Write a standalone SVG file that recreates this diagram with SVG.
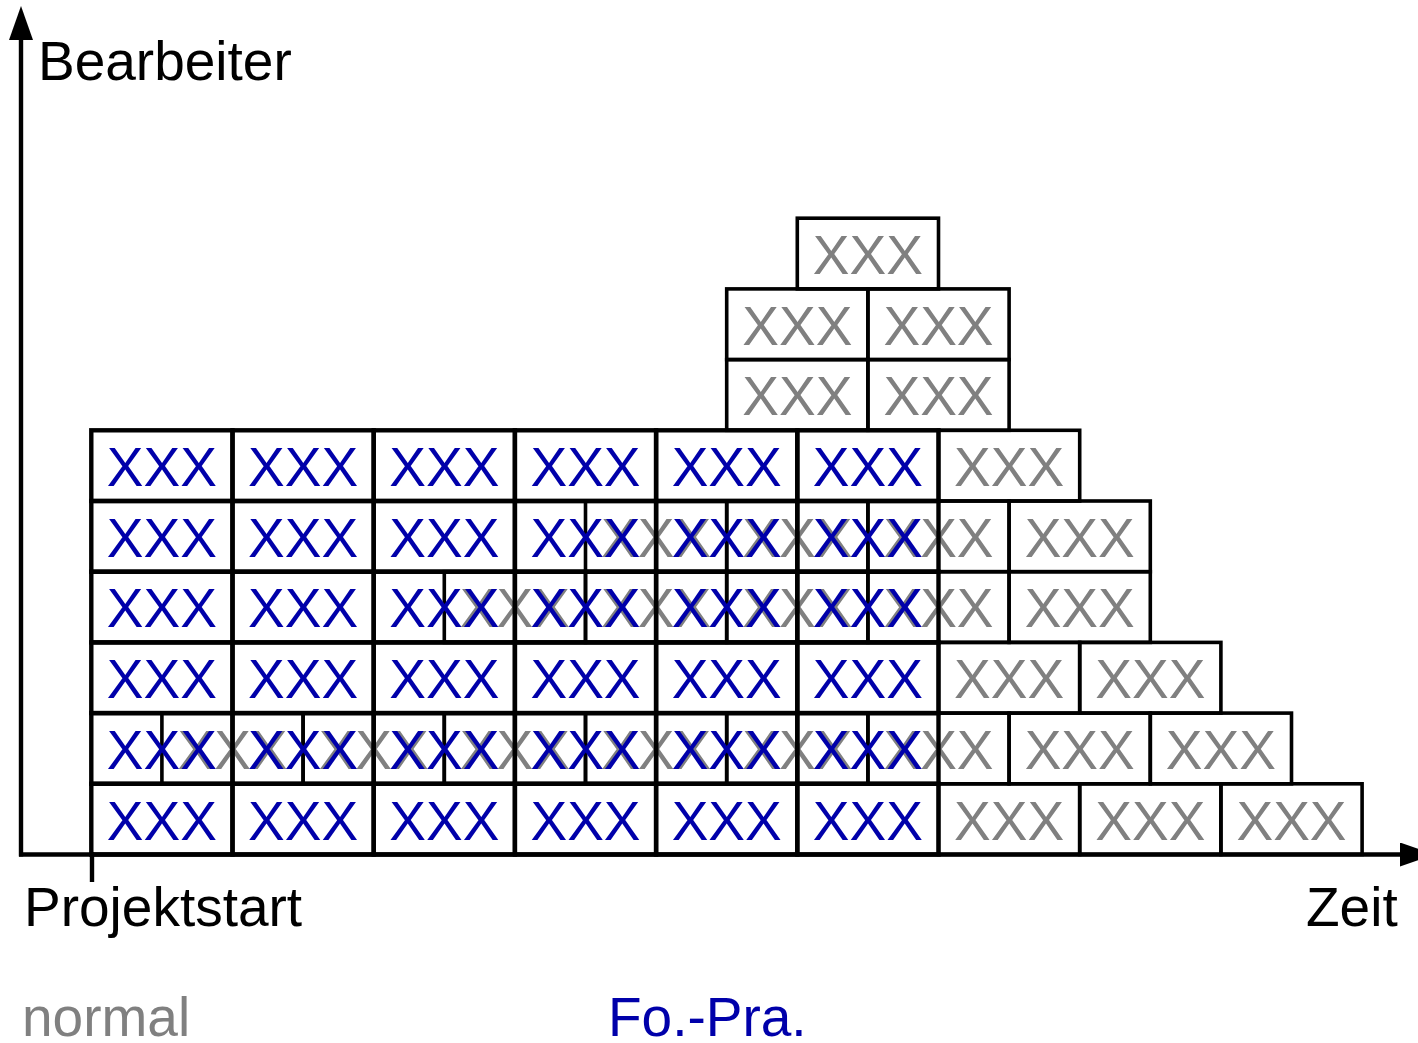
<svg xmlns="http://www.w3.org/2000/svg" width="1418" height="1043" viewBox="0 0 1418 1043">
<style>
text{font-family:"Liberation Sans",Arial,Helvetica,sans-serif;font-size:55px}
.g rect{fill:none;stroke:#000;stroke-width:3.6}
.b rect{fill:none;stroke:#000;stroke-width:4.4}
.g text{fill:#808080;text-anchor:middle}
.b text{fill:#0000AA;text-anchor:middle}
.ax{stroke:#000;stroke-width:4.4;fill:none}
.lbl{fill:#000}
</style>
<defs>
<marker id="arr" markerUnits="userSpaceOnUse" markerWidth="34" markerHeight="24" refX="0" refY="12" orient="auto">
<path d="M0,0 L34,12 L0,24 z" fill="#000"/>
</marker>
</defs>
<rect width="1418" height="1043" fill="#fff"/>
<g id="normal-boxes">
<g id="n8a" class="g"><rect x="797.3" y="218.2" width="141.2" height="70.7"/><text x="867.9" y="273.9">XXX</text></g>
<g id="n7a" class="g"><rect x="726.7" y="288.9" width="141.2" height="70.7"/><text x="797.3" y="344.6">XXX</text></g>
<g id="n7b" class="g"><rect x="867.9" y="288.9" width="141.2" height="70.7"/><text x="938.5" y="344.6">XXX</text></g>
<g id="n6a" class="g"><rect x="726.7" y="359.6" width="141.2" height="70.7"/><text x="797.3" y="415.3">XXX</text></g>
<g id="n6b" class="g"><rect x="867.9" y="359.6" width="141.2" height="70.7"/><text x="938.5" y="415.3">XXX</text></g>
<g id="n5a" class="g"><rect x="938.5" y="430.3" width="141.2" height="70.7"/><text x="1009.1" y="486">XXX</text></g>
<g id="n4a" class="g"><rect x="585.5" y="501" width="141.2" height="70.7"/><text x="656.1" y="556.7">XXX</text></g>
<g id="n4b" class="g"><rect x="726.7" y="501" width="141.2" height="70.7"/><text x="797.3" y="556.7">XXX</text></g>
<g id="n4c" class="g"><rect x="867.9" y="501" width="141.2" height="70.7"/><text x="938.5" y="556.7">XXX</text></g>
<g id="n4d" class="g"><rect x="1009.1" y="501" width="141.2" height="70.7"/><text x="1079.7" y="556.7">XXX</text></g>
<g id="n3a" class="g"><rect x="444.3" y="571.7" width="141.2" height="70.7"/><text x="514.9" y="627.4">XXX</text></g>
<g id="n3b" class="g"><rect x="585.5" y="571.7" width="141.2" height="70.7"/><text x="656.1" y="627.4">XXX</text></g>
<g id="n3c" class="g"><rect x="726.7" y="571.7" width="141.2" height="70.7"/><text x="797.3" y="627.4">XXX</text></g>
<g id="n3d" class="g"><rect x="867.9" y="571.7" width="141.2" height="70.7"/><text x="938.5" y="627.4">XXX</text></g>
<g id="n3e" class="g"><rect x="1009.1" y="571.7" width="141.2" height="70.7"/><text x="1079.7" y="627.4">XXX</text></g>
<g id="n2a" class="g"><rect x="938.5" y="642.4" width="141.2" height="70.7"/><text x="1009.1" y="698.1">XXX</text></g>
<g id="n2b" class="g"><rect x="1079.7" y="642.4" width="141.2" height="70.7"/><text x="1150.3" y="698.1">XXX</text></g>
<g id="n1a" class="g"><rect x="161.9" y="713.1" width="141.2" height="70.7"/><text x="232.5" y="768.8">XXX</text></g>
<g id="n1b" class="g"><rect x="303.1" y="713.1" width="141.2" height="70.7"/><text x="373.7" y="768.8">XXX</text></g>
<g id="n1c" class="g"><rect x="444.3" y="713.1" width="141.2" height="70.7"/><text x="514.9" y="768.8">XXX</text></g>
<g id="n1d" class="g"><rect x="585.5" y="713.1" width="141.2" height="70.7"/><text x="656.1" y="768.8">XXX</text></g>
<g id="n1e" class="g"><rect x="726.7" y="713.1" width="141.2" height="70.7"/><text x="797.3" y="768.8">XXX</text></g>
<g id="n1f" class="g"><rect x="867.9" y="713.1" width="141.2" height="70.7"/><text x="938.5" y="768.8">XXX</text></g>
<g id="n1g" class="g"><rect x="1009.1" y="713.1" width="141.2" height="70.7"/><text x="1079.7" y="768.8">XXX</text></g>
<g id="n1h" class="g"><rect x="1150.3" y="713.1" width="141.2" height="70.7"/><text x="1220.9" y="768.8">XXX</text></g>
<g id="n0a" class="g"><rect x="938.5" y="783.8" width="141.2" height="70.7"/><text x="1009.1" y="839.5">XXX</text></g>
<g id="n0b" class="g"><rect x="1079.7" y="783.8" width="141.2" height="70.7"/><text x="1150.3" y="839.5">XXX</text></g>
<g id="n0c" class="g"><rect x="1220.9" y="783.8" width="141.2" height="70.7"/><text x="1291.5" y="839.5">XXX</text></g>
</g>
<g id="fopra-boxes">
<g id="f5a" class="b"><rect x="91.3" y="430.3" width="141.2" height="70.7"/><text x="161.9" y="486">XXX</text></g>
<g id="f5b" class="b"><rect x="232.5" y="430.3" width="141.2" height="70.7"/><text x="303.1" y="486">XXX</text></g>
<g id="f5c" class="b"><rect x="373.7" y="430.3" width="141.2" height="70.7"/><text x="444.3" y="486">XXX</text></g>
<g id="f5d" class="b"><rect x="514.9" y="430.3" width="141.2" height="70.7"/><text x="585.5" y="486">XXX</text></g>
<g id="f5e" class="b"><rect x="656.1" y="430.3" width="141.2" height="70.7"/><text x="726.7" y="486">XXX</text></g>
<g id="f5f" class="b"><rect x="797.3" y="430.3" width="141.2" height="70.7"/><text x="867.9" y="486">XXX</text></g>
<g id="f4a" class="b"><rect x="91.3" y="501" width="141.2" height="70.7"/><text x="161.9" y="556.7">XXX</text></g>
<g id="f4b" class="b"><rect x="232.5" y="501" width="141.2" height="70.7"/><text x="303.1" y="556.7">XXX</text></g>
<g id="f4c" class="b"><rect x="373.7" y="501" width="141.2" height="70.7"/><text x="444.3" y="556.7">XXX</text></g>
<g id="f4d" class="b"><rect x="514.9" y="501" width="141.2" height="70.7"/><text x="585.5" y="556.7">XXX</text></g>
<g id="f4e" class="b"><rect x="656.1" y="501" width="141.2" height="70.7"/><text x="726.7" y="556.7">XXX</text></g>
<g id="f4f" class="b"><rect x="797.3" y="501" width="141.2" height="70.7"/><text x="867.9" y="556.7">XXX</text></g>
<g id="f3a" class="b"><rect x="91.3" y="571.7" width="141.2" height="70.7"/><text x="161.9" y="627.4">XXX</text></g>
<g id="f3b" class="b"><rect x="232.5" y="571.7" width="141.2" height="70.7"/><text x="303.1" y="627.4">XXX</text></g>
<g id="f3c" class="b"><rect x="373.7" y="571.7" width="141.2" height="70.7"/><text x="444.3" y="627.4">XXX</text></g>
<g id="f3d" class="b"><rect x="514.9" y="571.7" width="141.2" height="70.7"/><text x="585.5" y="627.4">XXX</text></g>
<g id="f3e" class="b"><rect x="656.1" y="571.7" width="141.2" height="70.7"/><text x="726.7" y="627.4">XXX</text></g>
<g id="f3f" class="b"><rect x="797.3" y="571.7" width="141.2" height="70.7"/><text x="867.9" y="627.4">XXX</text></g>
<g id="f2a" class="b"><rect x="91.3" y="642.4" width="141.2" height="70.7"/><text x="161.9" y="698.1">XXX</text></g>
<g id="f2b" class="b"><rect x="232.5" y="642.4" width="141.2" height="70.7"/><text x="303.1" y="698.1">XXX</text></g>
<g id="f2c" class="b"><rect x="373.7" y="642.4" width="141.2" height="70.7"/><text x="444.3" y="698.1">XXX</text></g>
<g id="f2d" class="b"><rect x="514.9" y="642.4" width="141.2" height="70.7"/><text x="585.5" y="698.1">XXX</text></g>
<g id="f2e" class="b"><rect x="656.1" y="642.4" width="141.2" height="70.7"/><text x="726.7" y="698.1">XXX</text></g>
<g id="f2f" class="b"><rect x="797.3" y="642.4" width="141.2" height="70.7"/><text x="867.9" y="698.1">XXX</text></g>
<g id="f1a" class="b"><rect x="91.3" y="713.1" width="141.2" height="70.7"/><text x="161.9" y="768.8">XXX</text></g>
<g id="f1b" class="b"><rect x="232.5" y="713.1" width="141.2" height="70.7"/><text x="303.1" y="768.8">XXX</text></g>
<g id="f1c" class="b"><rect x="373.7" y="713.1" width="141.2" height="70.7"/><text x="444.3" y="768.8">XXX</text></g>
<g id="f1d" class="b"><rect x="514.9" y="713.1" width="141.2" height="70.7"/><text x="585.5" y="768.8">XXX</text></g>
<g id="f1e" class="b"><rect x="656.1" y="713.1" width="141.2" height="70.7"/><text x="726.7" y="768.8">XXX</text></g>
<g id="f1f" class="b"><rect x="797.3" y="713.1" width="141.2" height="70.7"/><text x="867.9" y="768.8">XXX</text></g>
<g id="f0a" class="b"><rect x="91.3" y="783.8" width="141.2" height="70.7"/><text x="161.9" y="839.5">XXX</text></g>
<g id="f0b" class="b"><rect x="232.5" y="783.8" width="141.2" height="70.7"/><text x="303.1" y="839.5">XXX</text></g>
<g id="f0c" class="b"><rect x="373.7" y="783.8" width="141.2" height="70.7"/><text x="444.3" y="839.5">XXX</text></g>
<g id="f0d" class="b"><rect x="514.9" y="783.8" width="141.2" height="70.7"/><text x="585.5" y="839.5">XXX</text></g>
<g id="f0e" class="b"><rect x="656.1" y="783.8" width="141.2" height="70.7"/><text x="726.7" y="839.5">XXX</text></g>
<g id="f0f" class="b"><rect x="797.3" y="783.8" width="141.2" height="70.7"/><text x="867.9" y="839.5">XXX</text></g>
</g>
<g id="connectors">
<line class="ax" x1="21" y1="856.5" x2="21" y2="40" marker-end="url(#arr)"/>
<line class="ax" x1="19" y1="854.5" x2="1400" y2="854.5" marker-end="url(#arr)"/>
<line class="ax" x1="92" y1="852" x2="92" y2="882"/>
</g>
<g id="labels">
<text class="lbl" x="38" y="80">Bearbeiter</text>
<text class="lbl" x="24" y="926">Projektstart</text>
<text class="lbl" x="1306" y="926">Zeit</text>
<text x="22" y="1036" fill="#808080">normal</text>
<text x="608" y="1036" fill="#0000AA">Fo.-Pra.</text>
</g>
</svg>
